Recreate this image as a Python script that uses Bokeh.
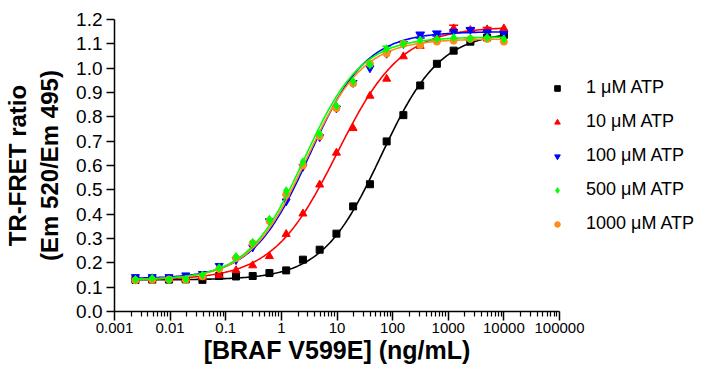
import numpy as np
from bokeh.plotting import figure
from bokeh.models import (FixedTicker, CustomJSTickFormatter, PrintfTickFormatter,
                          Legend, LegendItem, Range1d, Whisker, TeeHead, ColumnDataSource)
from bokeh.embed import file_html
from bokeh.resources import INLINE

# ---- data ----
conc = [0.00238, 0.00477, 0.00954, 0.0191, 0.0381, 0.0763, 0.153, 0.305, 0.610,
        1.22, 2.44, 4.88, 9.77, 19.5, 39.1, 78.1, 156, 313, 625, 1250, 2500, 5000, 10000]

atp_1 = [0.130, 0.131, 0.131, 0.132, 0.130, 0.146, 0.144, 0.146, 0.158, 0.169, 0.213,
         0.254, 0.320, 0.432, 0.523, 0.699, 0.807, 0.929, 1.018, 1.072, 1.109, 1.126, 1.136]
atp_10 = [0.135, 0.136, 0.133, 0.131, 0.140, 0.149, 0.169, 0.189, 0.227, 0.318, 0.402,
          0.521, 0.652, 0.753, 0.886, 0.956, 1.048, 1.091, 1.122, 1.163, 1.156, 1.159, 1.163]
atp_100 = [0.142, 0.142, 0.142, 0.149, 0.155, 0.188, 0.212, 0.264, 0.372, 0.453, 0.595,
           0.717, 0.835, 0.940, 1.000, 1.060, 1.100, 1.136, 1.142, 1.150, 1.158, 1.148, 1.142]
atp_500 = [0.132, 0.137, 0.130, 0.133, 0.150, 0.180, 0.226, 0.284, 0.379, 0.496, 0.615,
           0.730, 0.845, 0.946, 1.014, 1.080, 1.100, 1.116, 1.120, 1.126, 1.122, 1.126, 1.120]
atp_1000 = [0.128, 0.130, 0.132, 0.130, 0.145, 0.175, 0.220, 0.280, 0.372, 0.480, 0.600,
            0.720, 0.835, 0.937, 1.018, 1.060, 1.100, 1.095, 1.109, 1.113, 1.120, 1.120, 1.109]

# visible error bars (series index, point index, +/- error)
err_series = [1, 1, 1, 2, 2, 2, 3]
err_point = [19, 20, 21, 17, 18, 20, 15]
err_size = [0.013, 0.006, 0.008, 0.012, 0.010, 0.008, 0.010]

labels = ["1 μM ATP", "10 μM ATP", "100 μM ATP", "500 μM ATP", "1000 μM ATP"]
colors = ["black", "red", "blue", "#00ff00", "#ff8c1a"]
markers = ["square", "triangle", "inverted_triangle", "diamond", "circle"]
sizes = [7, 8, 8, 8, 7]

# 4-parameter logistic fit parameters (bottom, top, EC50, Hill)
fit_bottom = [0.130, 0.130, 0.135, 0.130, 0.130]
fit_top = [1.150, 1.170, 1.150, 1.128, 1.120]
fit_ec50 = [62.0, 10.0, 3.2, 2.6, 2.8]
fit_hill = [0.82, 0.75, 0.85, 0.85, 0.85]

x_ticks = [0.001, 0.01, 0.1, 1, 10, 100, 1000, 10000, 100000]
y_ticks = [0.0, 0.1, 0.2, 0.3, 0.4, 0.5, 0.6, 0.7, 0.8, 0.9, 1.0, 1.1, 1.2]

series = [atp_1, atp_10, atp_100, atp_500, atp_1000]

FONT = "Liberation Sans"

p = figure(frame_width=445, frame_height=292, x_axis_type="log",
           x_range=Range1d(0.001, 100000), y_range=Range1d(0, 1.2),
           output_backend="svg", toolbar_location=None,
           min_border_left=107, min_border_right=135,
           min_border_top=19, min_border_bottom=55)
p.outline_line_color = None
p.grid.visible = False
p.background_fill_color = "white"
p.border_fill_color = "white"

xs = np.logspace(np.log10(conc[0]), np.log10(conc[-1]), 300)

# error bars
for s in sorted(set(err_series)):
    idx = [k for k in range(len(err_series)) if err_series[k] == s]
    xb = [conc[err_point[k]] for k in idx]
    yb = [series[s][err_point[k]] for k in idx]
    src = ColumnDataSource(dict(
        x=xb,
        upper=[yb[j] + err_size[k] for j, k in enumerate(idx)],
        lower=[yb[j] - err_size[k] for j, k in enumerate(idx)]))
    w = Whisker(source=src, base="x", upper="upper", lower="lower", dimension="height",
                line_color=colors[s], line_width=1.5,
                upper_head=TeeHead(size=9, line_color=colors[s], line_width=1.5),
                lower_head=TeeHead(size=9, line_color=colors[s], line_width=1.5))
    p.add_layout(w)

order = [0, 1, 2, 4, 3]
scatter_r = {}
for i in order:
    b, t, e, h = fit_bottom[i], fit_top[i], fit_ec50[i], fit_hill[i]
    curve = b + (t - b) / (1 + (e / xs) ** h)
    p.line(xs, curve, line_color=colors[i], line_width=1.6)
    scatter_r[i] = p.scatter(conc, series[i], marker=markers[i], size=sizes[i],
                             fill_color=colors[i], line_color=colors[i])

# axes
minor = []
for d in range(-3, 5):
    for m in range(2, 10):
        minor.append(m * 10.0 ** d)
p.xaxis.ticker = FixedTicker(ticks=x_ticks, minor_ticks=minor)
p.xaxis.formatter = CustomJSTickFormatter(code="return tick >= 1 ? tick.toFixed(0) : String(tick);")
p.yaxis.ticker = FixedTicker(ticks=y_ticks)
p.yaxis.formatter = PrintfTickFormatter(format="%.1f")

for ax in (p.xaxis[0], p.yaxis[0]):
    ax.axis_line_width = 1.5
    ax.axis_line_color = "black"
    ax.major_tick_line_color = "black"
    ax.major_tick_line_width = 1.5
    ax.minor_tick_line_color = "black"
    ax.minor_tick_line_width = 1.2
    ax.major_tick_in = 0
    ax.minor_tick_in = 0
    ax.major_label_text_font = FONT
    ax.major_label_text_color = "black"
    ax.axis_label_text_font = FONT
    ax.axis_label_text_font_style = "bold"
    ax.axis_label_text_color = "black"

p.xaxis.major_tick_out = 9
p.xaxis.minor_tick_out = 5
p.xaxis.major_label_text_font_size = "15px"
p.xaxis.major_label_standoff = 2
p.xaxis.axis_label = "[BRAF V599E] (ng/mL)"
p.xaxis.axis_label_text_font_size = "25px"
p.xaxis.axis_label_standoff = 0

p.yaxis.major_tick_out = 8
p.yaxis.minor_tick_out = 0
p.yaxis.major_label_text_font_size = "19px"
p.yaxis.major_label_standoff = 4
p.yaxis.axis_label = "TR-FRET ratio\n(Em 520/Em 495)"
p.yaxis.axis_label_text_font_size = "24px"
p.yaxis.axis_label_standoff = 10

legend = Legend(items=[LegendItem(label=labels[i], renderers=[scatter_r[i]]) for i in range(5)],
                location=(-9, 77), glyph_width=14, glyph_height=14, label_height=20,
                spacing=13, padding=0, margin=0, label_standoff=22,
                label_text_font=FONT, label_text_font_size="18px",
                label_text_color="black", border_line_color=None,
                background_fill_alpha=0)
p.add_layout(legend, "right")

open("out.html", "w").write(file_html(p, INLINE))
